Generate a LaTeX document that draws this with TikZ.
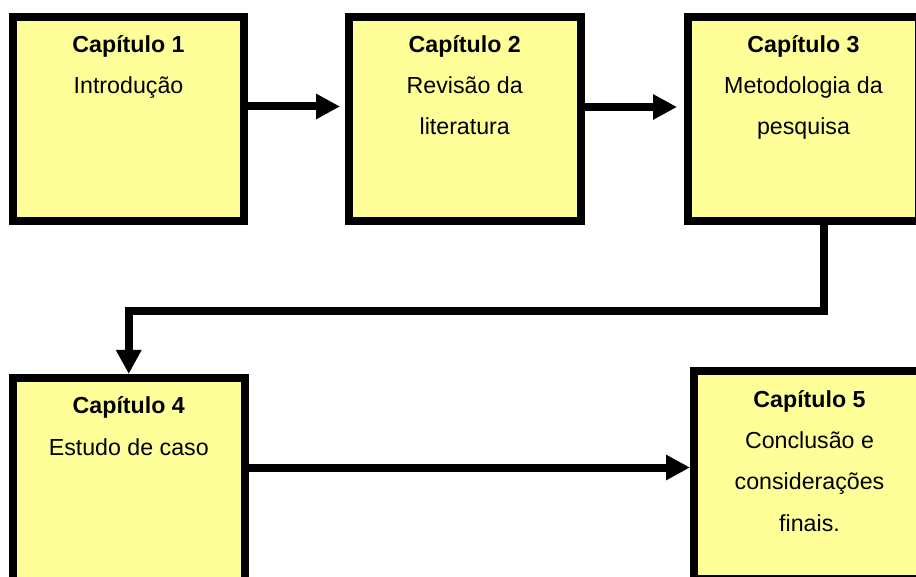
\documentclass[tikz,border=0pt]{standalone}
\usepackage{fontspec}
\setmainfont{Liberation Sans}
\usetikzlibrary{arrows.meta}
\definecolor{boxfill}{HTML}{FFFF99}
\begin{document}
\begin{tikzpicture}[x=1pt,y=-1pt,
  chapter/.style={draw=black, line width=8pt, fill=boxfill, inner sep=0pt},
  % base anchor sits on the baseline of the last line
  caption/.style={anchor=base, align=center, inner sep=0pt,
    font=\fontsize{23.2}{41.3}\selectfont},
  flow/.style={line width=8pt, -{Triangle[length=24pt,width=24pt]}}]
  \useasboundingbox (0,0) rectangle (916,577);

  % chapter boxes
  \node[chapter, minimum width=231pt,   minimum height=203.5pt] (c1) at (128.5,119.25) {};
  \node[chapter, minimum width=231.5pt, minimum height=203.5pt] (c2) at (464.75,119.25) {};
  \node[chapter, minimum width=231pt,   minimum height=203.5pt] (c3) at (803.5,119.25) {};
  \node[chapter, minimum width=231.5pt, minimum height=203.5pt] (c4) at (128.75,479.75) {};
  \node[chapter, minimum width=231pt,   minimum height=208pt]   (c5) at (809.5,475) {};

  % chapter titles
  \node[caption] (t1) at (128.5,94)   {\textbf{Capítulo 1}\\Introdução};
  \node[caption] (t2) at (464.75,135) {\textbf{Capítulo 2}\\Revisão da\\literatura};
  \node[caption] (t3) at (803.5,135)  {\textbf{Capítulo 3}\\Metodologia da\\pesquisa};
  \node[caption] (t4) at (128.75,455) {\textbf{Capítulo 4}\\Estudo de caso};
  \node[caption] (t5) at (809.5,531)  {\textbf{Capítulo 5}\\Conclusão e\\considerações\\finais.};

  % flow between chapters
  \draw[flow] ([yshift=12.75pt]c1.east) -- ([xshift=-5pt,yshift=12.75pt]c2.west);
  \draw[flow] ([yshift=12.25pt]c2.east) -- ([xshift=-7pt,yshift=12.25pt]c3.west);
  \draw[flow] ([xshift=20pt]c3.south) -- ++(0,86) -| (c4.north);
  \draw[flow] ([yshift=12.25pt]c4.east) coordinate (a45) -- (a45 -| c5.west);
\end{tikzpicture}
\end{document}
